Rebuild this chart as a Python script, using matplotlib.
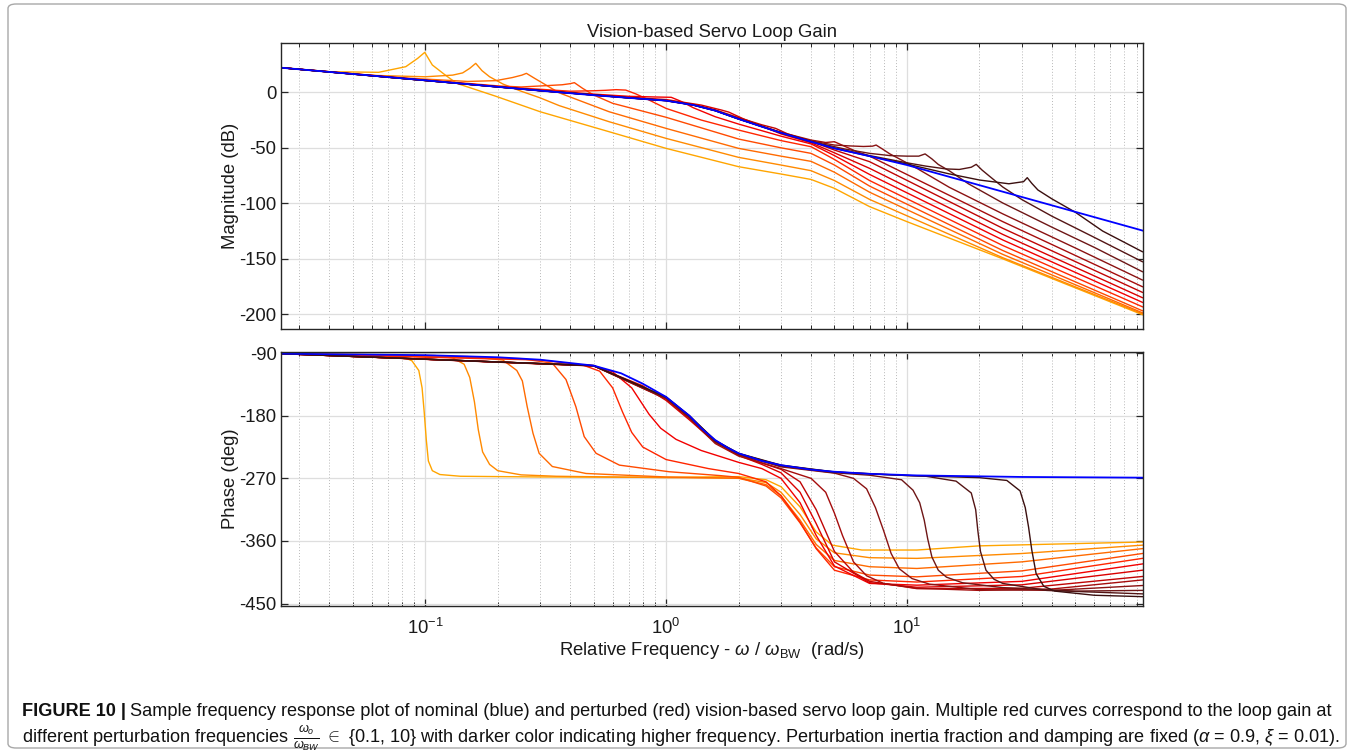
import numpy as np
import matplotlib.pyplot as plt
from matplotlib import font_manager
from matplotlib.patches import FancyBboxPatch
from matplotlib.ticker import LogLocator, NullFormatter

# ---- data (frequency w/w_BW, value) ----
PERTURB_FREQS = [0.1, 0.162, 0.261, 0.422, 0.681, 1.1, 1.78, 2.87, 4.64, 7.5, 12.1, 19.6, 31.6]

NOM_MAG = [(0.0251, 22.2), (0.1, 10.8), (0.3, 1.5), (0.5, -2.6), (0.7, -5.0), (1.0, -7.5), (1.3, -11.5),
           (1.6, -16.5), (2.0, -24.0), (2.5, -31.0), (3.0, -36.5), (4.0, -44.5), (5.0, -50.5), (7.0, -57.5),
           (10.0, -65.5), (95.0, -124.5)]
C1_MAG = [(0.0251, 22.2), (0.04, 18.6), (0.064, 18.0), (0.083, 23.1), (0.093, 30.6), (0.0995, 36.0), (0.107, 24.6),
          (0.121, 15.6), (0.135, 8.1), (0.196, -3.5), (0.3, -17.5), (0.58, -35.5), (1.0, -50.5), (2.0, -67.0),
          (3.0, -73.6), (4.0, -78.5), (5.0, -86.5), (7.0, -103.0), (10.0, -116.5), (25.0, -150.0), (95.0, -200.3)]
C2_MAG = [(0.0251, 22.2), (0.06, 15.3), (0.1, 14.0), (0.13, 15.5), (0.143, 17.5), (0.153, 21.6), (0.162, 26.1),
          (0.172, 19.5), (0.185, 14.0), (0.21, 7.5), (0.25, 1.0), (0.3, -5.0), (0.36, -12.0), (0.58, -26.5),
          (1.0, -41.5), (2.0, -58.6), (3.0, -65.5), (4.0, -70.6), (5.0, -79.5), (7.0, -96.5), (25.0, -149.0),
          (95.0, -199.5)]
C3_MAG = [(0.0251, 22.2), (0.08, 13.1), (0.15, 9.8), (0.196, 10.5), (0.23, 13.3), (0.252, 15.5), (0.263, 17.1),
          (0.285, 12.5), (0.317, 6.6), (0.36, -0.5), (0.58, -17.5), (1.0, -32.5), (2.0, -50.5), (3.0, -57.5),
          (4.0, -62.2), (5.0, -72.0), (7.0, -90.0), (25.0, -146.0), (95.0, -198.6)]
C4_MAG = [(0.0251, 22.2), (0.1, 11.2), (0.2, 5.8), (0.25, 4.8), (0.317, 6.0), (0.37, 6.8), (0.4, 7.8), (0.416, 8.7),
          (0.45, 3.6), (0.5, -2.4), (0.6, -9.9), (1.0, -22.5), (2.0, -42.1), (3.0, -50.0), (4.0, -55.0),
          (5.0, -65.5), (7.0, -84.5), (25.0, -142.5), (95.0, -196.8)]
C5_MAG = [(0.0251, 22.2), (0.2, 5.2), (0.4, 1.0), (0.5, 1.4), (0.56, 1.8), (0.62, 2.4), (0.68, 2.0), (0.75, -1.5),
          (0.86, -7.5), (1.0, -14.5), (1.4, -25.0), (2.0, -34.0), (3.0, -43.5), (4.0, -49.0), (5.0, -60.5),
          (7.0, -79.5), (25.0, -138.0), (95.0, -193.2)]
C6_MAG = [(0.0251, 22.2), (0.3, 2.0), (0.5, -1.6), (0.7, -3.6), (0.9, -4.2), (1.05, -4.5), (1.15, -8.0),
          (1.3, -14.0), (1.6, -22.0), (2.0, -28.6), (3.0, -39.5), (4.0, -46.5), (5.0, -57.0), (7.0, -74.0),
          (25.0, -133.0), (95.0, -189.2)]
C7_MAG = [(0.0251, 22.2), (0.3, 1.7), (0.5, -2.2), (0.7, -4.5), (1.0, -6.5), (1.4, -11.5), (1.7, -16.0),
          (1.82, -17.8), (2.1, -24.0), (2.5, -30.5), (3.0, -37.5), (4.0, -45.5), (5.0, -54.5), (7.0, -68.5),
          (25.0, -128.0), (95.0, -185.0)]
C8_MAG = [(0.0251, 22.2), (0.3, 1.6), (0.7, -4.8), (1.0, -7.2), (1.3, -11.0), (1.6, -15.8), (2.0, -22.8),
          (2.5, -29.3), (2.85, -32.5), (3.2, -37.5), (4.0, -44.2), (5.0, -52.0), (7.0, -62.5), (25.0, -122.5),
          (95.0, -180.2)]
C9_MAG = [(0.0251, 22.2), (0.3, 1.5), (0.7, -4.9), (1.0, -7.3), (1.3, -11.3), (1.6, -16.2), (2.0, -23.7),
          (3.0, -36.0), (4.0, -43.0), (4.6, -45.2), (5.0, -44.5), (5.5, -48.5), (6.2, -53.5), (7.0, -57.5),
          (25.0, -116.5), (95.0, -175.1)]
C10_MAG = [(0.0251, 22.2), (0.3, 1.5), (0.7, -5.0), (1.0, -7.4), (1.3, -11.4), (1.6, -16.4), (2.0, -23.9),
           (2.5, -30.8), (3.0, -36.3), (4.0, -43.8), (5.0, -47.5), (5.8, -48.3), (6.6, -48.8), (7.2, -48.5),
           (7.45, -47.5), (7.9, -51.0), (8.5, -55.5), (9.5, -61.0), (11.0, -68.5), (15.0, -85.6), (25.0, -109.5),
           (50.0, -140.2), (95.0, -169.1)]
C11_MAG = [(0.0251, 22.2), (0.3, 1.5), (0.7, -5.0), (1.0, -7.5), (1.3, -11.5), (1.6, -16.5), (2.0, -24.0),
           (3.0, -36.4), (4.0, -44.2), (5.5, -51.0), (7.0, -55.0), (8.5, -57.0), (10.0, -57.5), (11.2, -57.5),
           (11.9, -55.5), (12.7, -60.0), (13.5, -65.0), (15.0, -70.7), (18.0, -82.4), (25.0, -99.7),
           (40.0, -121.5), (60.0, -139.7), (95.0, -161.6)]
C12_MAG = [(0.0251, 22.2), (0.3, 1.5), (0.7, -5.0), (1.0, -7.5), (1.3, -11.5), (1.6, -16.5), (2.0, -24.0),
           (3.0, -36.5), (4.0, -44.4), (5.0, -50.2), (7.0, -57.0), (10.0, -63.5), (12.0, -66.5), (14.5, -69.0),
           (16.5, -69.5), (18.5, -67.5), (19.4, -64.9), (20.5, -70.0), (22.0, -75.5), (25.0, -85.3),
           (30.0, -96.6), (40.0, -111.6), (60.0, -130.7), (95.0, -152.6)]
C13_MAG = [(0.0251, 22.2), (0.3, 1.5), (0.7, -5.0), (1.0, -7.5), (1.3, -11.5), (1.6, -16.5), (2.0, -24.0),
           (3.0, -36.5), (4.0, -44.5), (5.0, -50.4), (7.0, -57.6), (10.0, -64.6), (15.0, -73.5), (20.0, -79.0),
           (26.5, -82.4), (30.5, -80.5), (31.6, -76.9), (33.0, -82.0), (35.0, -88.0), (40.0, -96.0),
           (50.0, -108.0), (65.0, -125.0), (95.0, -143.6)]

NOM_PH = [(0.0251, -90.8), (0.1, -93.0), (0.2, -96.0), (0.3, -99.5), (0.5, -108.0), (0.65, -119.0), (0.8, -134.0),
          (1.0, -153.0), (1.15, -170.0), (1.25, -180.0), (1.4, -198.0), (1.6, -215.0), (1.8, -226.0),
          (2.0, -234.0), (2.5, -245.0), (3.0, -251.0), (4.0, -257.5), (5.0, -260.5), (7.0, -263.5),
          (11.0, -265.8), (30.0, -268.0), (95.0, -269.0)]
C1_PH = [(0.0251, -90.8), (0.07, -92.5), (0.08, -95.0), (0.088, -101.0), (0.094, -115.0), (0.097, -140.0),
         (0.099, -175.0), (0.101, -215.0), (0.103, -245.0), (0.107, -259.0), (0.115, -264.5), (0.14, -267.0),
         (0.3, -268.0), (1.0, -268.5), (2.0, -267.5), (2.6, -272.0), (3.0, -282.0), (3.6, -311.0), (4.2, -347.0),
         (4.9, -366.0), (6.5, -373.0), (11.0, -373.0), (20.0, -367.0), (95.0, -361.5)]
C2_PH = [(0.0251, -90.8), (0.11, -93.5), (0.13, -97.0), (0.145, -106.0), (0.153, -125.0), (0.16, -160.0),
         (0.166, -200.0), (0.173, -232.0), (0.185, -250.0), (0.2, -259.0), (0.25, -265.0), (0.35, -267.0),
         (1.0, -269.0), (2.0, -269.5), (2.6, -276.0), (3.0, -290.0), (3.6, -322.0), (4.2, -357.0), (5.0, -377.0),
         (7.0, -384.0), (11.0, -385.0), (30.0, -378.0), (95.0, -366.0)]
C3_PH = [(0.0251, -90.8), (0.15, -95.0), (0.21, -100.0), (0.24, -115.0), (0.253, -130.0), (0.265, -167.0),
         (0.28, -205.0), (0.297, -234.0), (0.337, -253.0), (0.465, -263.0), (1.0, -268.0), (2.0, -270.0),
         (2.6, -279.0), (3.0, -295.0), (3.6, -330.0), (4.2, -365.0), (5.0, -388.0), (7.0, -397.0),
         (11.0, -399.5), (30.0, -390.0), (95.0, -371.0)]
C4_PH = [(0.0251, -90.8), (0.25, -98.0), (0.337, -104.5), (0.384, -128.0), (0.422, -167.0), (0.457, -210.0),
         (0.512, -234.0), (0.64, -251.0), (1.03, -260.5), (1.67, -266.0), (2.0, -268.5), (2.6, -281.0),
         (3.0, -298.0), (3.6, -334.0), (4.2, -370.0), (5.0, -397.0), (7.0, -409.0), (11.0, -411.5),
         (30.0, -403.0), (95.0, -378.0)]
C5_PH = [(0.0251, -90.8), (0.3, -100.0), (0.45, -107.0), (0.53, -116.0), (0.6, -140.0), (0.66, -175.0),
         (0.72, -204.0), (0.8, -225.0), (1.0, -243.0), (1.5, -256.0), (2.0, -263.0), (2.6, -275.0), (3.0, -295.0),
         (3.6, -333.0), (4.2, -371.0), (5.0, -402.0), (7.0, -416.0), (11.0, -419.0), (30.0, -411.0),
         (95.0, -385.0)]
C6_PH = [(0.0251, -90.8), (0.5, -108.0), (0.6, -117.0), (0.72, -140.0), (0.85, -178.0), (0.95, -198.0),
         (1.1, -214.0), (1.4, -230.0), (2.0, -247.0), (2.5, -256.0), (3.0, -270.0), (3.6, -305.0), (4.2, -352.0),
         (5.0, -396.0), (7.0, -421.0), (11.0, -423.5), (30.0, -418.0), (95.0, -393.0)]
C7_PH = [(0.0251, -90.8), (0.5, -108.5), (0.8, -137.0), (1.0, -158.0), (1.25, -186.0), (1.5, -210.0),
         (1.8, -228.0), (2.0, -237.0), (2.5, -250.0), (3.0, -262.0), (3.6, -290.0), (4.2, -335.0), (5.0, -390.0),
         (7.0, -420.0), (11.0, -426.5), (30.0, -423.0), (95.0, -402.0)]
C8_PH = [(0.0251, -90.8), (0.5, -108.3), (1.0, -155.5), (1.25, -183.0), (1.6, -218.0), (2.0, -236.0),
         (2.5, -248.0), (3.0, -257.0), (3.6, -275.0), (4.2, -315.0), (5.0, -375.0), (6.0, -405.0), (7.0, -418.0),
         (11.0, -428.5), (30.0, -428.0), (95.0, -411.0)]
C9_PH = [(0.0251, -90.8), (0.5, -108.2), (1.0, -156.0), (1.25, -184.0), (1.6, -220.0), (2.0, -238.0),
         (3.0, -256.0), (4.0, -270.0), (4.6, -290.0), (5.0, -320.0), (5.4, -352.0), (6.0, -390.0), (6.8, -410.0),
         (8.0, -421.0), (11.0, -428.0), (20.0, -431.0), (40.0, -429.0), (95.0, -416.0)]
C10_PH = [(0.0251, -90.8), (0.5, -108.1), (1.0, -155.0), (1.25, -182.5), (1.6, -218.0), (2.0, -236.0),
          (3.0, -253.5), (5.0, -262.5), (6.0, -270.0), (6.8, -285.0), (7.4, -312.0), (8.0, -345.0), (8.6, -378.0),
          (9.3, -400.0), (10.5, -414.0), (12.4, -422.0), (20.0, -430.0), (40.0, -431.0), (95.0, -424.0)]
C11_PH = [(0.0251, -90.8), (0.5, -108.0), (1.0, -154.0), (1.25, -181.5), (1.6, -217.0), (2.0, -235.0),
          (3.0, -252.5), (5.0, -262.0), (7.0, -265.5), (9.5, -272.0), (10.6, -287.0), (11.3, -305.0),
          (11.8, -330.0), (12.2, -357.0), (12.7, -383.0), (13.5, -402.0), (14.6, -412.0), (17.0, -420.0),
          (25.0, -427.0), (50.0, -432.0), (95.0, -431.0)]
C12_PH = [(0.0251, -90.8), (0.5, -108.0), (1.0, -153.5), (1.25, -180.5), (1.6, -216.0), (2.0, -234.5),
          (3.0, -251.5), (5.0, -261.0), (8.0, -264.5), (12.0, -267.0), (16.0, -274.0), (18.5, -291.0),
          (19.3, -315.0), (19.7, -345.0), (20.2, -375.0), (21.3, -402.0), (23.0, -415.0), (25.0, -421.0),
          (38.0, -431.0), (95.0, -436.0)]
C13_PH = [(0.0251, -90.8), (0.5, -108.0), (1.0, -153.0), (1.25, -180.0), (1.6, -215.5), (2.0, -234.0),
          (3.0, -251.0), (5.0, -260.8), (10.0, -266.0), (20.0, -269.0), (26.0, -273.0), (29.5, -288.0),
          (31.0, -312.0), (32.0, -340.0), (33.0, -373.0), (34.4, -407.0), (37.0, -425.0), (41.0, -432.0),
          (60.0, -438.0), (95.0, -440.0)]

PERT_MAG = [C1_MAG, C2_MAG, C3_MAG, C4_MAG, C5_MAG, C6_MAG, C7_MAG, C8_MAG, C9_MAG, C10_MAG, C11_MAG, C12_MAG, C13_MAG]
PERT_PH = [C1_PH, C2_PH, C3_PH, C4_PH, C5_PH, C6_PH, C7_PH, C8_PH, C9_PH, C10_PH, C11_PH, C12_PH, C13_PH]

# orange -> red -> dark brown, darker = higher perturbation frequency
PERT_COLORS = ['#ffa500', '#ff8a00', '#ff6a00', '#ff4a00', '#ff2600', '#f20000', '#da0000', '#c00404',
               '#a50c0c', '#8a1212', '#6e1616', '#531414', '#3a0f0f']

MAG_TICKS = [-200, -150, -100, -50, 0]
PH_TICKS = [-450, -360, -270, -180, -90]

# ---- fonts ----
names = {f.name for f in font_manager.fontManager.ttflist}
cap_font = 'Liberation Sans Narrow' if 'Liberation Sans Narrow' in names else 'Liberation Sans'
plt.rcParams['font.family'] = ['Liberation Sans', 'DejaVu Sans']
plt.rcParams['mathtext.fontset'] = 'custom'
plt.rcParams['mathtext.rm'] = 'Liberation Sans'
plt.rcParams['mathtext.it'] = 'Liberation Sans:italic'
plt.rcParams['mathtext.bf'] = 'Liberation Sans:bold'
plt.rcParams['axes.unicode_minus'] = False

W, H = 1354, 752
fig = plt.figure(figsize=(W / 100, H / 100), dpi=100)


def px_box(l, t, r, b):
    return [l / W, 1 - b / H, (r - l) / W, (b - t) / H]


ax1 = fig.add_axes(px_box(280.7, 42.7, 1142.7, 329.3))
ax2 = fig.add_axes(px_box(280.7, 351.7, 1142.7, 605.7))

for pts, col in zip(PERT_MAG, PERT_COLORS):
    w, v = zip(*pts)
    ax1.plot(w, v, color=col, lw=1.0)
w, v = zip(*NOM_MAG)
ax1.plot(w, v, color='#0000ff', lw=1.3)

for pts, col in zip(PERT_PH, PERT_COLORS):
    w, v = zip(*pts)
    ax2.plot(w, v, color=col, lw=1.0)
w, v = zip(*NOM_PH)
ax2.plot(w, v, color='#0000ff', lw=1.3)

for ax in (ax1, ax2):
    ax.set_xscale('log')
    ax.set_xlim(0.0251, 95.3)
    ax.xaxis.set_minor_locator(LogLocator(base=10, subs=np.arange(2, 10), numticks=100))
    ax.xaxis.set_minor_formatter(NullFormatter())
    ax.set_axisbelow(True)
    ax.grid(which='major', axis='both', color='#dedede', lw=0.9, ls='-')
    ax.grid(which='minor', axis='x', color='#b8b8b8', lw=0.7, ls=(0, (1, 2)))
    ax.tick_params(which='both', direction='in', top=True, right=True, colors='#262626',
                   labelsize=13.3, labelcolor='#1a1a1a')
    ax.tick_params(which='major', length=5, width=0.9)
    ax.tick_params(which='minor', length=3, width=0.7)
    ax.tick_params(axis='y', pad=3)
    for s in ax.spines.values():
        s.set_color('#262626')
        s.set_linewidth(1.0)

ax1.set_ylim(-213.5, 44.7)
ax1.set_yticks(MAG_TICKS)
ax1.tick_params(labelbottom=False)
ax1.set_title('Vision-based Servo Loop Gain', fontsize=13.3, pad=4, color='#1a1a1a')
ax1.set_ylabel('Magnitude (dB)', fontsize=13.3, color='#1a1a1a')
ax1.yaxis.set_label_coords(-0.048, 0.5)

ax2.set_ylim(-453, -88)
ax2.set_yticks(PH_TICKS)
ax2.tick_params(axis='x', which='major', pad=9)
ax2.set_ylabel('Phase (deg)', fontsize=13.3, color='#1a1a1a')
ax2.yaxis.set_label_coords(-0.048, 0.5)
ax2.set_xlabel(r'Relative Frequency - $\omega$ / $\omega_{\mathrm{BW}}$  (rad/s)', fontsize=13.3,
               color='#1a1a1a', labelpad=1)

# ---- caption ----
fig.add_artist(FancyBboxPatch((8 / W, 4 / H), 1338 / W, 744 / H, transform=fig.transFigure,
                              boxstyle='round,pad=0,rounding_size=0.006', fc='none', ec='#a8a8a8', lw=1.0))

cap_fam = [cap_font, 'DejaVu Sans']
line1 = ('Sample frequency response plot of nominal (blue) and perturbed (red) vision-based servo loop gain. '
         'Multiple red curves correspond to the loop gain at')
line2 = (r'different perturbation frequencies $\frac{\omega_o}{\omega_{BW}}$ $\in$ {0.1, 10} with darker color '
         r'indicating higher frequency. Perturbation inertia fraction and damping are fixed '
         r'($\alpha$ = 0.9, $\xi$ = 0.01).')

fs = 12.0
renderer = fig.canvas.get_renderer()
tb = fig.text(22 / W, 1 - 711 / H, 'FIGURE 10 |', fontsize=fs, weight='bold', family=cap_fam,
              va='center', color='#111111')
t1 = fig.text(0, 1 - 711 / H, line1, fontsize=fs, family=cap_fam, va='center', color='#111111')
t2 = fig.text(22 / W, 1 - 738 / H, line2, fontsize=fs, family=cap_fam, va='center', color='#111111')

# scale caption so that line 2 spans the same width as in the reference
w2 = t2.get_window_extent(renderer).width
fs2 = fs * (1316 / w2)
for t in (tb, t1, t2):
    t.set_fontsize(fs2)
wb = tb.get_window_extent(renderer)
t1.set_x((wb.x1 + 4) / W)

fig.savefig('out.png', dpi=100)
